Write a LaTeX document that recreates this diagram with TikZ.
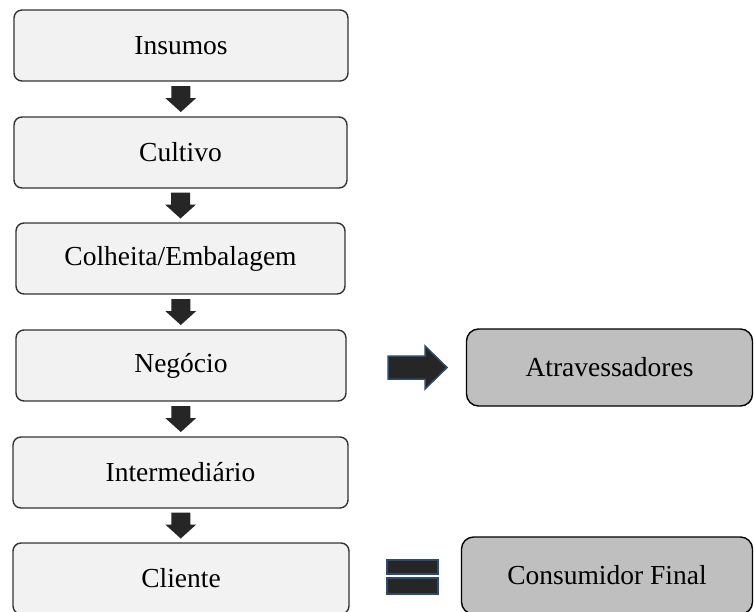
\documentclass[tikz,border=0pt]{standalone}
\usepackage{fontspec}
\setmainfont{Liberation Serif}
\usetikzlibrary{calc}
\definecolor{boxfill}{HTML}{F2F2F2}
\definecolor{boxline}{HTML}{333333}
\definecolor{graybox}{HTML}{BFBFBF}
\definecolor{arrfill}{HTML}{262626}
\definecolor{arrline}{HTML}{2E4A6E}
\tikzset{
  stepbox/.style={draw=boxline, line width=1.4pt, fill=boxfill, rounded corners=8pt,
    minimum height=71pt, inner sep=0pt, font=\fontsize{27.5}{31}\selectfont},
  sidebox/.style={draw=black, line width=1.4pt, fill=graybox, rounded corners=12pt,
    minimum height=77pt, inner sep=0pt, font=\fontsize{27.5}{31}\selectfont},
  darrow/.style={fill=arrfill},
  barrow/.style={fill=arrfill, draw=arrline, line width=1.5pt},
}
\newcommand\downarr[1]{\fill[darrow] (#1) ++(-9.5,-13) -- ++(19,0) -- ++(0,12) -- ++(6,0) -- ++(-15.5,14) -- ++(-15.5,-14) -- ++(6,0) -- cycle;}
\begin{document}
\begin{tikzpicture}[x=1pt,y=-1pt]
\useasboundingbox[clip] (0,0) rectangle (754,611);
\fill[white] (0,0) rectangle (754,611);
\node[stepbox, minimum width=334pt] (b1) at (181,45.5) {Insumos};
\node[stepbox, minimum width=333pt] (b2) at (180.5,152.5) {Cultivo};
\node[stepbox, minimum width=329pt] (b3) at (180.5,258.5) {Colheita/Embalagem};
\node[stepbox, minimum width=330pt] (b4) at (181,365.5) {Negócio};
\node[stepbox, minimum width=335pt] (b5) at (180.5,472.5) {Intermediário};
\node[stepbox, minimum width=336pt] (b6) at (181,578.5) {Cliente};
\node[sidebox, minimum width=286pt] (a1) at (609.5,367.5) {Atravessadores};
\node[sidebox, minimum width=291pt] (a2) at (607,575.5) {Consumidor Final};
\coordinate (m1) at ($(b1.south)!0.5!(b2.north)$);
\coordinate (m2) at ($(b2.south)!0.5!(b3.north)$);
\coordinate (m3) at ($(b3.south)!0.5!(b4.north)$);
\coordinate (m4) at ($(b4.south)!0.5!(b5.north)$);
\coordinate (m5) at ($(b5.south)!0.5!(b6.north)$);
\downarr{m1}
\downarr{m2}
\downarr{m3}
\downarr{m4}
\downarr{m5}
% right block arrow
\coordinate (r) at (388,367);
\draw[barrow] (r) ++(0,-11) -- ++(37,0) -- ++(0,-10) -- ++(22,21.5) -- ++(-22,21.5) -- ++(0,-10) -- ++(-37,0) -- cycle;
% equal sign
\coordinate (e) at (387,560);
\draw[barrow] (e) rectangle ++(51,14);
\draw[barrow] (e) ++(0,18) rectangle ++(51,16);
\end{tikzpicture}
\end{document}
